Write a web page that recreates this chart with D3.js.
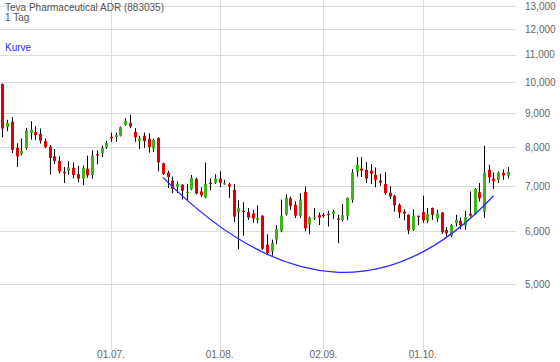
<!DOCTYPE html>
<html>
<head>
<meta charset="utf-8">
<script src="https://cdn.jsdelivr.net/npm/d3@7"></script>
<style>
  html, body { margin: 0; padding: 0; background: #fff; }
  svg { display: block; }
  text { font-family: "Liberation Sans", Arial, sans-serif; }
</style>
</head>
<body>
<svg id="chart" width="560" height="362"></svg>
<script>
// ---- data ----
const title = "Teva Pharmaceutical ADR (883035)";
const period = "1 Tag";
const curveLabel = "Kurve";

const firstDay = "2019-05-29";
const lastDay = "2019-10-25";

const open = [9940,8570,8730,7980,7820,7980,8400,8430,8370,8170,
  8010,7750,7630,7350,7380,7450,7290,7180,7430,7270,
  7810,7830,7990,8290,8280,8320,8640,8700,8430,8170,
  8320,8230,7960,8260,7570,7330,7130,6980,7030,6850,
  6920,7170,6870,6730,7080,7080,7180,7060,7040,6910,
  6390,6430,6400,6370,6230,6320,5720,5590,5820,5990,
  6350,6710,6560,6320,6860,6130,6280,6330,6340,6360,
  6360,6260,6230,6320,6680,7360,7430,7400,7380,7270,
  7130,7050,6840,6770,6560,6410,6340,6020,6320,6400,
  6210,6490,6260,6390,6020,5900,6160,6210,6110,6360,
  6360,6850,6410,7400,7180,7150,7320,7250];
const high = [9960,8790,8870,8110,8240,8550,8750,8600,8530,8240,
  8060,7950,7750,7470,7620,7590,7500,7510,7770,7910,
  7910,8040,8180,8410,8410,8590,8840,8940,8540,8320,
  8410,8390,8240,8270,7580,7380,7230,7110,7040,7050,
  7270,7210,6970,7590,7190,7290,7360,7150,7080,7050,
  6660,6620,6490,6450,6550,6330,5930,5820,6120,6680,
  6800,6750,6640,6830,6990,6300,6490,6390,6380,6430,
  6450,6340,6580,6730,7420,7730,7730,7600,7550,7460,
  7300,7340,6990,6790,6590,6460,6350,6460,6320,6770,
  6490,6500,6450,6400,6080,6140,6340,6280,6430,6870,
  6950,7070,8040,7530,7330,7360,7410,7470];
const low = [8280,8450,7840,7470,7780,7930,8210,8200,8100,7980,
  7280,7550,7310,7070,7280,7180,7090,7020,7200,7180,
  7540,7730,7950,8150,8150,8300,8610,8540,8150,7950,
  7980,7850,7870,7360,7270,6950,6830,6830,6680,6660,
  6900,6800,6740,6710,6900,7050,6970,7030,6720,6180,
  5630,5900,6230,6170,6160,5620,5520,5510,5730,5970,
  6320,6450,6270,6270,5990,5930,6230,6120,6280,6090,
  6250,5750,6200,6220,6610,7230,7220,7070,7050,6970,
  7000,6790,6690,6410,6270,6220,5930,6000,6120,6170,
  6160,6230,6190,5940,5870,5870,6090,6030,6020,6300,
  6340,6640,6270,7080,6930,7070,7150,7190];
const close = [8530,8700,7930,7750,7900,8470,8490,8340,8180,8010,
  7710,7630,7360,7340,7460,7270,7180,7450,7260,7770,
  7800,7980,8120,8280,8340,8570,8760,8590,8280,8240,
  8170,8000,8200,7590,7300,7220,6930,7050,6890,6860,
  7200,6820,6780,7050,7070,7180,7080,7070,6990,6300,
  6490,6420,6280,6260,6270,5640,5560,5750,6040,6320,
  6720,6540,6320,6680,6050,6280,6290,6280,6330,6350,
  6410,6250,6330,6720,7330,7530,7380,7180,7300,7150,
  7080,6830,6750,6550,6390,6370,6010,6310,6310,6220,
  6360,6340,6360,5970,5950,6120,6230,6110,6290,6320,
  6930,6710,7330,7210,7120,7330,7260,7350];

// "Kurve" drawing: start, control and end point (trading-day index, price)
const kurveIndex = [34, 72, 104];
const kurvePrice = [7210, 3880, 6770];

const yTicks = [5000, 6000, 7000, 8000, 9000, 10000, 11000, 12000, 13000];
const xTickDates = ["2019-07-01", "2019-08-01", "2019-09-02", "2019-10-01"];
const xTickLabels = ["01.07.", "01.08.", "02.09.", "01.10."];
const yDomain = [4010, 13270];

// ---- trading days (weekdays) ----
const parse = d3.timeParse("%Y-%m-%d");
const fmt = d3.timeFormat("%Y-%m-%d");
const dates = d3.timeDay.range(parse(firstDay), d3.timeDay.offset(parse(lastDay), 1))
  .filter(d => d.getDay() !== 0 && d.getDay() !== 6)
  .map(fmt);

const candles = dates.map((d, i) => ({date: d, o: open[i], h: high[i], l: low[i], c: close[i]}));

// ---- scales ----
const svg = d3.select("#chart");
const plotRight = 516, plotBottom = 348;
const x = d3.scaleBand().domain(dates).range([0, 510]).paddingInner(0).paddingOuter(0);
const cx = d => Math.round(x(d) + x.bandwidth() / 2) + 0.5;
const y = d3.scaleLog().domain(yDomain).range([plotBottom, 0]);

const gridColor = "#dcdcdc";
const textColor = "#666";

// horizontal gridlines
svg.append("g").selectAll("line").data(yTicks).join("line")
  .attr("x1", 0).attr("x2", plotRight)
  .attr("y1", d => Math.round(y(d)) + 0.5).attr("y2", d => Math.round(y(d)) + 0.5)
  .attr("stroke", gridColor).attr("stroke-width", 1);

// vertical gridlines
svg.append("g").selectAll("line").data(xTickDates).join("line")
  .attr("x1", d => cx(d)).attr("x2", d => cx(d))
  .attr("y1", 0).attr("y2", 350)
  .attr("stroke", gridColor).attr("stroke-width", 1);

// y labels
const yAxis = d3.axisRight(y).tickValues(yTicks).tickFormat(d3.format(",")).tickSize(0).tickPadding(0);
const gy = svg.append("g").attr("transform", "translate(525,0)").call(yAxis);
gy.select(".domain").remove();
gy.selectAll("text").attr("fill", textColor).style("font-size", "10px")
  .style("font-family", '"Liberation Sans", Arial, sans-serif');

// x labels
const xAxis = d3.axisBottom(x).tickValues(xTickDates)
  .tickFormat((d, i) => xTickLabels[xTickDates.indexOf(d)]).tickSize(0).tickPadding(0);
const gx = svg.append("g").attr("transform", "translate(0,351)").call(xAxis);
gx.select(".domain").remove();
gx.selectAll("text").attr("fill", textColor).style("font-size", "10px")
  .style("font-family", '"Liberation Sans", Arial, sans-serif');

// candles
const up = "#3fb31b", down = "#e00000";
const g = svg.append("g");
g.selectAll("line.wick").data(candles).join("line").attr("class", "wick")
  .attr("x1", d => cx(d.date)).attr("x2", d => cx(d.date))
  .attr("y1", d => y(d.h)).attr("y2", d => y(d.l))
  .attr("stroke", "#000").attr("stroke-width", 1);
g.selectAll("rect.body").data(candles).join("rect").attr("class", "body")
  .attr("x", d => cx(d.date) - 1.5)
  .attr("width", 3)
  .attr("y", d => Math.min(y(d.o), y(d.c)))
  .attr("height", d => Math.max(1.3, Math.abs(y(d.o) - y(d.c))))
  .attr("fill", d => d.c >= d.o ? up : down);

// Kurve (quadratic curve through scales)
const kx = i => x(dates[0]) + x.bandwidth() / 2 + i * x.step();
const p = d3.path();
p.moveTo(kx(kurveIndex[0]), y(kurvePrice[0]));
p.quadraticCurveTo(kx(kurveIndex[1]), y(kurvePrice[1]), kx(kurveIndex[2]), y(kurvePrice[2]));
svg.append("path").attr("d", p.toString())
  .attr("fill", "none").attr("stroke", "#2a2aff").attr("stroke-width", 1.3);

// texts
svg.append("text").attr("x", 5).attr("y", 10.5).attr("fill", "#555")
  .style("font-size", "10px").text(title);
svg.append("text").attr("x", 5).attr("y", 20.5).attr("fill", "#555")
  .style("font-size", "10px").text(period);
svg.append("text").attr("x", 5).attr("y", 50.5).attr("fill", "#2a2aff")
  .style("font-size", "10px").text(curveLabel);
</script>
</body>
</html>
